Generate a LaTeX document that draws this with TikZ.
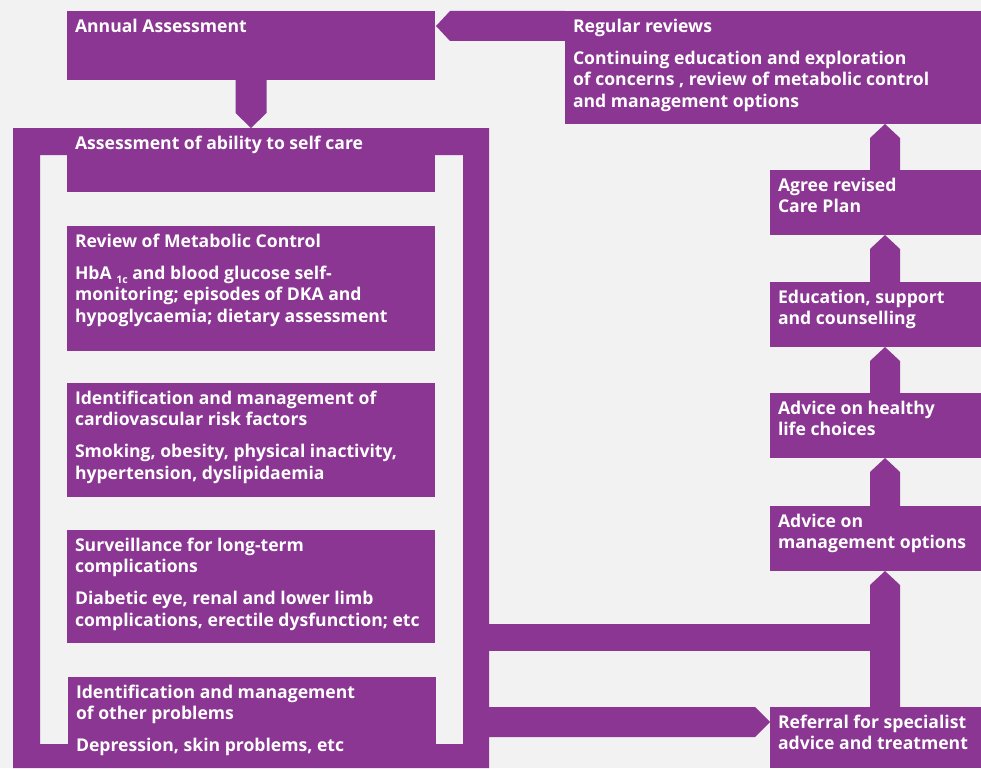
\documentclass[tikz,border=0pt]{standalone}
\usepackage{fontspec}
\setmainfont{Open Sans}
\definecolor{purp}{HTML}{8A3692}
\definecolor{bg}{HTML}{F2F2F2}
\tikzset{
  box/.style={fill=purp, draw=none, inner sep=0pt, outer sep=0pt, anchor=north west},
  txt/.style={text=white, font=\fontsize{17.6}{21.5}\selectfont\bfseries, inner sep=0pt, outer sep=0pt, anchor=north west, align=left},
  conn/.style={fill=purp, draw=none}
}
\newcommand\myarrowup[2]{%
  \coordinate (m) at ([xshift=115pt]#1.north west);
  \fill[conn] ([xshift=-15pt]m) -- ([shift={(-15pt,-14pt)}]m |- #2.south) -- (m |- #2.south) -- ([shift={(15pt,-14pt)}]m |- #2.south) -- ([xshift=15pt]m) -- cycle;}
\newcommand\boxtext[2]{\node[txt] (#1T) at ([shift={(8pt,-6pt)}]#1.north west) {\strut #2};}
\begin{document}
\begin{tikzpicture}[x=1pt,y=-1pt]
\fill[bg] (0,0) rectangle (981,768);
\useasboundingbox (0,0) rectangle (981,768);
% frame around the assessment items
\fill[purp, even odd rule] (13,128) rectangle (489,768) (40,155) rectangle (463,744);
% boxes
\node[box, minimum width=368pt, minimum height=69pt] (annual) at (67,11) {};
\node[box, minimum width=368pt, minimum height=64pt] (self) at (67,128) {};
\node[box, minimum width=368pt, minimum height=125pt] (metab) at (67,226) {};
\node[box, minimum width=368pt, minimum height=114pt] (cardio) at (67,383) {};
\node[box, minimum width=368pt, minimum height=113pt] (surv) at (67,530) {};
\node[box, minimum width=368pt, minimum height=91pt] (other) at (68,677) {};
\node[box, minimum width=416pt, minimum height=113pt] (regular) at (565,11) {};
\node[box, minimum width=211pt, minimum height=65pt] (agree) at (770,170) {};
\node[box, minimum width=211pt, minimum height=65pt] (educ) at (770,282) {};
\node[box, minimum width=211pt, minimum height=65pt] (healthy) at (770,393) {};
\node[box, minimum width=211pt, minimum height=65pt] (manage) at (770,506) {};
\node[box, minimum width=211pt, minimum height=61pt] (referral) at (770,707) {};
% texts
\boxtext{annual}{Annual Assessment}
\boxtext{self}{Assessment of ability to self care}
\boxtext{metab}{Review of Metabolic Control\\[10.5pt]HbA {\fontsize{10.5}{10.5}\selectfont\raisebox{-4pt}{1c}} and blood glucose self-\\monitoring; episodes of DKA and\\hypoglycaemia; dietary assessment}
\boxtext{cardio}{Identification and management of\\cardiovascular risk factors\\[10.5pt]Smoking, obesity, physical inactivity,\\hypertension, dyslipidaemia}
\boxtext{surv}{Surveillance for long-term\\complications\\[10.5pt]Diabetic eye, renal and lower limb\\complications, erectile dysfunction; etc}
\boxtext{other}{Identification and management\\of other problems\\[10.5pt]Depression, skin problems, etc}
\boxtext{regular}{Regular reviews\\[10.5pt]Continuing education and exploration\\of concerns , review of metabolic control\\and management options}
\boxtext{agree}{Agree revised\\Care Plan}
\boxtext{educ}{Education, support\\and counselling}
\boxtext{healthy}{Advice on healthy\\life choices}
\boxtext{manage}{Advice on\\management options}
\boxtext{referral}{Referral for specialist\\advice and treatment}
% annual -> self
\fill[conn] ([xshift=-15.5pt]annual.south) -- ([shift={(-15.5pt,-33pt)}]annual.south) -- (annual.south |- self.north) -- ([shift={(15.5pt,-33pt)}]annual.south) -- ([xshift=15.5pt]annual.south) -- cycle;
% regular -> annual
\fill[conn] (regular.north west) -- ([xshift=-115pt]regular.north west) -- ([shift={(1pt,-15pt)}]annual.north east) -- ([shift={(-115pt,-30pt)}]regular.north west) -- ([yshift=-30pt]regular.north west) -- cycle;
% right column
\myarrowup{agree}{regular}
\myarrowup{educ}{agree}
\myarrowup{healthy}{educ}
\myarrowup{manage}{healthy}
\myarrowup{referral}{manage}
% bar from frame to referral shaft
\coordinate (barL) at (489,624);
\coordinate (barR) at (871,651);
\fill[conn] (barL) rectangle (barR);
% frame -> referral
\coordinate (rL) at (489,707);
\fill[conn] (rL) -- ([xshift=-15pt]referral.north west) -- ([yshift=-15pt]referral.north west) -- ([shift={(-15pt,-30pt)}]referral.north west) -- ([yshift=-30pt]rL) -- cycle;
\end{tikzpicture}
\end{document}
